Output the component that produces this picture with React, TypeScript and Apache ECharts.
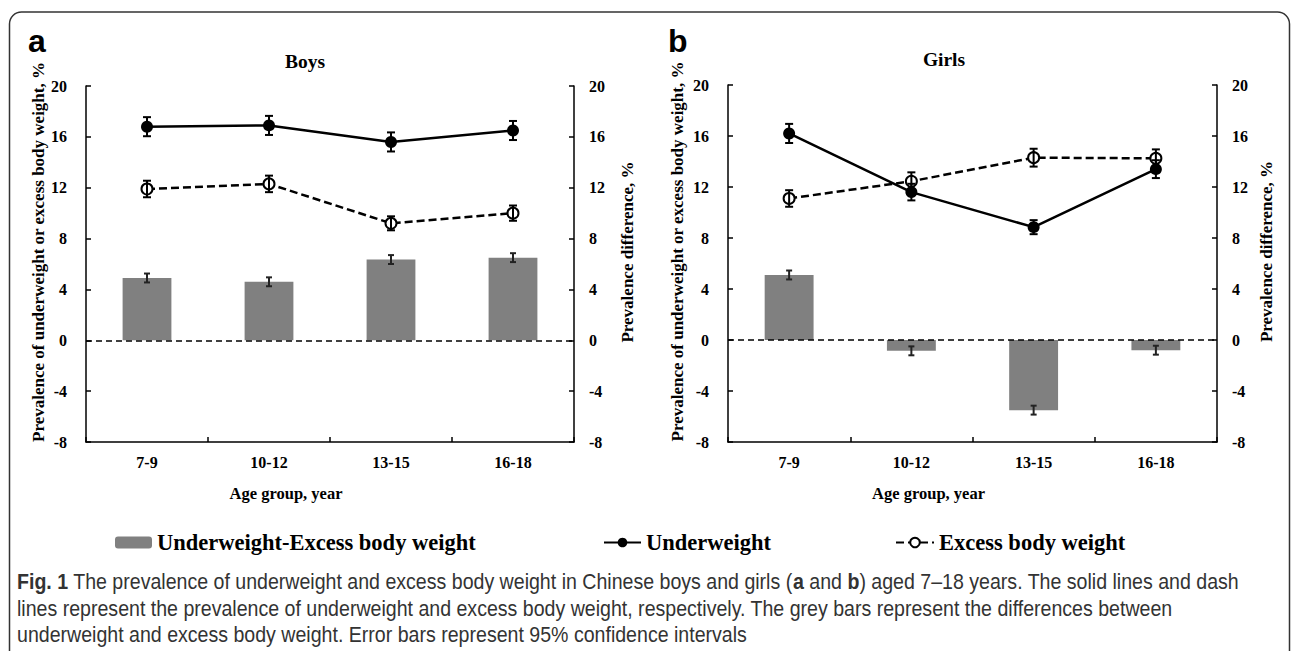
import React, { useEffect, useRef } from "react";
import * as echarts from "echarts";

const categories = ["7-9", "10-12", "13-15", "16-18"];

const boysUnder = [16.8, 16.9, 15.6, 16.5];
const boysUnderErr = [0.75, 0.75, 0.75, 0.75];
const boysExcess = [11.9, 12.3, 9.2, 10.0];
const boysExcessErr = [0.65, 0.65, 0.55, 0.6];
const boysDiff = [4.9, 4.6, 6.35, 6.5];
const boysDiffErr = [0.35, 0.35, 0.35, 0.35];

const girlsUnder = [16.2, 11.6, 8.85, 13.4];
const girlsUnderErr = [0.75, 0.65, 0.55, 0.7];
const girlsExcess = [11.1, 12.45, 14.3, 14.25];
const girlsExcessErr = [0.65, 0.7, 0.7, 0.7];
const girlsDiff = [5.1, -0.85, -5.5, -0.8];
const girlsDiffErr = [0.35, 0.35, 0.35, 0.35];

const yTicks = { min: -8, max: 20, interval: 4 };

const LEG_DIFF = "Underweight-Excess body weight";
const LEG_UNDER = "Underweight";
const LEG_EXCESS = "Excess body weight";

const SERIF = "'Liberation Serif', 'Times New Roman', serif";
const SANS = "'Liberation Sans', Arial, sans-serif";

const captionLines = [
  "{b|Fig. 1} The prevalence of underweight and excess body weight in Chinese boys and girls ({b|a} and {b|b}) aged 7–18 years. The solid lines and dash",
  "lines represent the prevalence of underweight and excess body weight, respectively. The grey bars represent the differences between",
  "underweight and excess body weight. Error bars represent 95% confidence intervals",
];

function errSeries(xi: number, yi: number, vals: number[], errs: number[], cap: number, color: string) {
  return {
    type: "custom",
    name: "err",
    xAxisIndex: xi,
    yAxisIndex: yi,
    silent: true,
    z: 6,
    encode: { x: 0, y: [1, 2] },
    data: vals.map((v, i) => [i, v - errs[i], v + errs[i]]),
    renderItem: (params: any, api: any) => {
      const x = api.value(0);
      const lo = api.value(1);
      const hi = api.value(2);
      const pt = api.coord([x, hi]);
      const pb = api.coord([x, lo]);
      const hw = cap / 2;
      const st = { stroke: color, lineWidth: 2 };
      return {
        type: "group",
        children: [
          { type: "line", shape: { x1: pt[0], y1: pt[1], x2: pb[0], y2: pb[1] }, style: st },
          { type: "line", shape: { x1: pt[0] - hw, y1: pt[1], x2: pt[0] + hw, y2: pt[1] }, style: st },
          { type: "line", shape: { x1: pb[0] - hw, y1: pb[1], x2: pb[0] + hw, y2: pb[1] }, style: st },
        ],
      };
    },
  };
}

const zeroLine = {
  silent: true,
  symbol: ["none", "none"],
  label: { show: false },
  lineStyle: { type: [6, 4], color: "#000", width: 1.5 },
  data: [{ yAxis: 0 }],
};

function panelSeries(xi: number, yi: number, under: number[], underErr: number[], excess: number[], excessErr: number[], diff: number[], diffErr: number[]) {
  return [
    {
      type: "bar",
      name: LEG_DIFF,
      xAxisIndex: xi,
      yAxisIndex: yi,
      data: diff,
      barWidth: "40%",
      itemStyle: { color: "#808080" },
      markLine: zeroLine,
      z: 2,
    },
    {
      type: "line",
      name: LEG_UNDER,
      xAxisIndex: xi,
      yAxisIndex: yi,
      data: under,
      symbol: "circle",
      symbolSize: 12,
      itemStyle: { color: "#000" },
      lineStyle: { color: "#000", width: 2.5 },
      z: 3,
    },
    {
      type: "line",
      name: LEG_EXCESS,
      xAxisIndex: xi,
      yAxisIndex: yi,
      data: excess,
      symbol: "circle",
      symbolSize: 11,
      itemStyle: { color: "#fff", borderColor: "#000", borderWidth: 2 },
      lineStyle: { color: "#000", width: 2.5, type: [8, 4] },
      z: 3,
    },
    errSeries(xi, yi, diff, diffErr, 6, "#222"),
    errSeries(xi, yi, under, underErr, 8, "#000"),
    errSeries(xi, yi, excess, excessErr, 8, "#000"),
  ];
}

const axisLineStyle = { lineStyle: { color: "#000", width: 1.5 } };
const tickLabel = (margin: number) => ({
  color: "#000",
  fontFamily: SERIF,
  fontWeight: "bold",
  fontSize: 16,
  margin,
});
const nameStyle = {
  color: "#000",
  fontFamily: SERIF,
  fontWeight: "bold",
  fontSize: 17,
  padding: [0, 0, 0, 24],
};

function xAxisFor(gi: number) {
  return {
    type: "category",
    gridIndex: gi,
    data: categories,
    axisLine: { show: true, onZero: false, ...axisLineStyle },
    axisTick: { show: true, inside: true, length: 5, lineStyle: { color: "#000", width: 1.5 } },
    axisLabel: tickLabel(12),
    splitLine: { show: false },
    name: "Age group, year",
    nameLocation: "middle",
    nameGap: 43,
    nameTextStyle: { color: "#000", fontFamily: SERIF, fontWeight: "bold", fontSize: 16.5, padding: [0, 88, 0, 0] },
  };
}

function yAxisFor(gi: number, position: string, name: string, gap: number, margin: number) {
  return {
    type: "value",
    gridIndex: gi,
    position,
    ...yTicks,
    axisLine: { show: true, ...axisLineStyle },
    axisTick: { show: true, inside: true, length: 5, lineStyle: { color: "#000", width: 1.5 } },
    axisLabel: tickLabel(margin),
    splitLine: { show: false },
    name,
    nameLocation: "middle",
    nameGap: gap,
    nameTextStyle: nameStyle,
  };
}

const legendBase = {
  orient: "horizontal",
  padding: 0,
  itemGap: 0,
  selectedMode: false,
  itemHeight: 12,
  textStyle: { color: "#000", fontFamily: SERIF, fontWeight: "bold", fontSize: 22.5 },
};

export default function App() {
  const ref = useRef<HTMLDivElement>(null);
  useEffect(() => {
    if (!ref.current) return;
    const chart = echarts.init(ref.current, undefined, { renderer: "svg" });
    const option: any = {
      animation: false,
      backgroundColor: "#fff",
      grid: [
        { left: 86, top: 86, width: 488, height: 356, outerBoundsMode: "none" },
        { left: 728, top: 85, width: 489, height: 357, outerBoundsMode: "none" },
      ],
      xAxis: [xAxisFor(0), xAxisFor(1)],
      yAxis: [
        yAxisFor(0, "left", "Prevalence of underweight or excess body weight, %", 39, 19),
        yAxisFor(0, "right", "Prevalence difference, %", 45, 15),
        yAxisFor(1, "left", "Prevalence of underweight or excess body weight, %", 42, 19),
        yAxisFor(1, "right", "Prevalence difference, %", 41, 15),
      ],
      legend: [
        { ...legendBase, data: [LEG_DIFF], left: 115, top: 531, itemWidth: 37 },
        { ...legendBase, data: [LEG_UNDER], left: 603, top: 531, itemWidth: 37 },
        { ...legendBase, data: [LEG_EXCESS], left: 895, top: 531, itemWidth: 38 },
      ],
      graphic: [
        {
          type: "rect",
          shape: { x: 9.5, y: 12, width: 1280, height: 700, r: 12 },
          style: { fill: "none", stroke: "#333", lineWidth: 1.5 },
          silent: true,
        },
        {
          type: "text",
          x: 28,
          y: 41,
          style: { text: "a", fontFamily: SANS, fontWeight: "bold", fontSize: 32, fill: "#000", align: "left", verticalAlign: "middle" },
        },
        {
          type: "text",
          x: 668,
          y: 41,
          style: { text: "b", fontFamily: SANS, fontWeight: "bold", fontSize: 32, fill: "#000", align: "left", verticalAlign: "middle" },
        },
        {
          type: "text",
          x: 305,
          y: 61,
          style: { text: "Boys", fontFamily: SERIF, fontWeight: "bold", fontSize: 19.5, fill: "#000", align: "center", verticalAlign: "middle" },
        },
        {
          type: "text",
          x: 944,
          y: 59,
          style: { text: "Girls", fontFamily: SERIF, fontWeight: "bold", fontSize: 19.5, fill: "#000", align: "center", verticalAlign: "middle" },
        },
        {
          type: "text",
          x: 17,
          y: 568,
          scaleX: 0.89,
          style: {
            text: captionLines.join("\n"),
            fontFamily: SANS,
            fontSize: 22,
            lineHeight: 26.5,
            fill: "#333",
            align: "left",
            verticalAlign: "top",
            rich: {
              b: { fontFamily: SANS, fontWeight: "bold", fontSize: 22, lineHeight: 26.5, fill: "#333" },
            },
          },
        },
      ],
      series: [
        ...panelSeries(0, 0, boysUnder, boysUnderErr, boysExcess, boysExcessErr, boysDiff, boysDiffErr),
        ...panelSeries(1, 2, girlsUnder, girlsUnderErr, girlsExcess, girlsExcessErr, girlsDiff, girlsDiffErr),
      ],
    };
    chart.setOption(option);
    return () => chart.dispose();
  }, []);
  return (
    <div
      ref={ref}
      style={{ position: "absolute", left: 0, top: 0, width: 1292, height: 651, background: "#fff" }}
    />
  );
}
